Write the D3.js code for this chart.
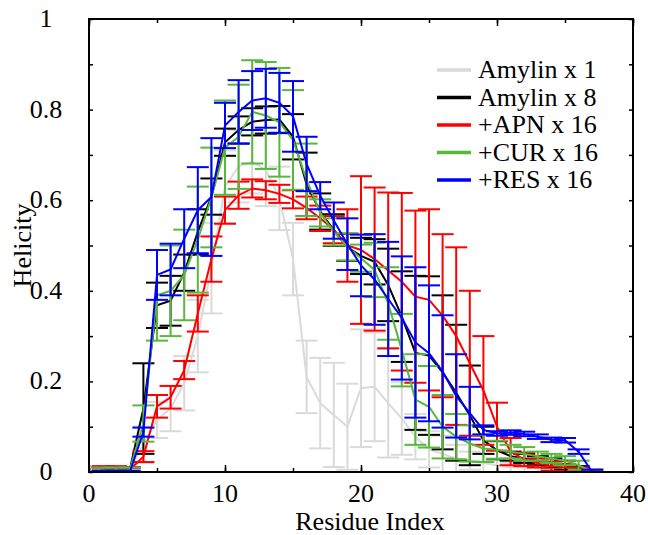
<!DOCTYPE html>
<html><head><meta charset="utf-8">
<script src="https://cdn.jsdelivr.net/npm/d3@7"></script>
<style>body{margin:0;background:#fff}svg{display:block}</style>
</head><body>
<script>
const residues = [1,2,3,4,5,6,7,8,9,10,11,12,13,14,15,16,17,18,19,20,21,22,23,24,25,26,27,28,29,30,31,32,33,34,35,36,37];

const amylin1 = [0.005,0.005,0.005,0.06,0.115,0.14,0.196,0.30,0.45,0.63,0.675,0.685,0.667,0.604,0.47,0.21,0.152,0.126,0.10,0.185,0.188,0.152,0.118,0.078,0.05,0.04,0.03,0.025,0.02,0.015,0.01,0.01,0.008,0.005,0.005,0.003,0];
const amylin1Err = [0.005,0.005,0.005,0.04,0.04,0.05,0.06,0.08,0.1,0.08,0.08,0.07,0.08,0.07,0.08,0.08,0.1,0.115,0.095,0.13,0.12,0.12,0.08,0.05,0.04,0.04,0.03,0.02,0.02,0.015,0.01,0.01,0.01,0.01,0.01,0.005,0.005];

const amylin8 = [0.005,0.005,0.005,0.14,0.368,0.378,0.44,0.53,0.608,0.728,0.755,0.773,0.777,0.778,0.74,0.635,0.575,0.534,0.496,0.477,0.464,0.413,0.343,0.263,0.257,0.22,0.175,0.125,0.07,0.048,0.035,0.03,0.025,0.02,0.015,0.008,0];
const amylin8Err = [0.005,0.005,0.005,0.1,0.05,0.055,0.04,0.05,0.04,0.03,0.03,0.03,0.03,0.03,0.05,0.07,0.04,0.035,0.03,0.04,0.05,0.08,0.1,0.17,0.175,0.17,0.15,0.11,0.03,0.02,0.01,0.01,0.01,0.01,0.01,0.005,0.005];

const apn16 = [0.008,0.008,0.005,0.034,0.145,0.165,0.225,0.35,0.47,0.578,0.611,0.626,0.622,0.614,0.602,0.583,0.56,0.535,0.50,0.49,0.47,0.445,0.42,0.387,0.38,0.345,0.30,0.24,0.18,0.10,0.045,0.028,0.02,0.013,0.01,0.005,0];
const apn16Err = [0.005,0.005,0.005,0.012,0.025,0.025,0.02,0.04,0.05,0.03,0.03,0.02,0.02,0.02,0.02,0.025,0.028,0.03,0.08,0.163,0.158,0.172,0.196,0.19,0.2,0.18,0.196,0.16,0.12,0.053,0.03,0.015,0.01,0.01,0.008,0.005,0.002];

const cur16 = [0.005,0.005,0.005,0.107,0.39,0.40,0.435,0.513,0.606,0.716,0.74,0.795,0.787,0.772,0.733,0.645,0.572,0.53,0.497,0.472,0.446,0.372,0.269,0.16,0.144,0.10,0.078,0.063,0.052,0.049,0.045,0.04,0.035,0.03,0.025,0.015,0];
const cur16Err = [0.005,0.005,0.005,0.04,0.1,0.1,0.1,0.117,0.11,0.104,0.115,0.114,0.118,0.12,0.11,0.08,0.03,0.03,0.03,0.03,0.06,0.08,0.08,0.1,0.09,0.07,0.05,0.04,0.03,0.02,0.015,0.015,0.01,0.01,0.01,0.01,0.005];

const res16 = [0,0,0,0.088,0.435,0.447,0.515,0.578,0.607,0.765,0.795,0.82,0.825,0.815,0.785,0.68,0.61,0.555,0.503,0.456,0.425,0.382,0.34,0.286,0.262,0.222,0.168,0.13,0.093,0.085,0.087,0.084,0.078,0.071,0.07,0.045,0];
const res16Err = [0.003,0.003,0.003,0.01,0.055,0.057,0.065,0.095,0.13,0.05,0.07,0.065,0.065,0.066,0.078,0.06,0.03,0.04,0.057,0.068,0.1,0.126,0.136,0.166,0.15,0.124,0.092,0.058,0.01,0.005,0.005,0.005,0.005,0.005,0.005,0.005,0.005];

const seriesNames = ["Amylin x 1","Amylin x 8","+APN x 16","+CUR x 16","+RES x 16"];
const seriesColors = ["#dadada","#000000","#ff0000","#58b83c","#0000ff"];
const seriesValues = [amylin1, amylin8, apn16, cur16, res16];
const seriesErrors = [amylin1Err, amylin8Err, apn16Err, cur16Err, res16Err];

const xTicks = [0,10,20,30,40];
const yTicks = [0,0.2,0.4,0.6,0.8,1];
const yTickLabels = ["0","0.2","0.4","0.6","0.8","1"];

const FONT = "'Liberation Serif', 'Times New Roman', Times, 'DejaVu Serif', serif";
const FS = 26;
const W = 648, H = 535;
const m = {left: 89, top: 19, right: 15, bottom: 63};
const iw = W - m.left - m.right, ih = H - m.top - m.bottom;

const svg = d3.select("body").append("svg").attr("width", W).attr("height", H)
  .attr("font-family", FONT);
const g = svg.append("g").attr("transform", `translate(${m.left},${m.top})`);

const x = d3.scaleLinear().domain([0,40]).range([0, iw]);
const y = d3.scaleLinear().domain([0,1]).range([ih, 0]);

svg.append("clipPath").attr("id","clip").append("rect").attr("width", iw).attr("height", ih + 2).attr("y", -1);
const plot = g.append("g").attr("clip-path","url(#clip)");

const capW = 11;
const line = d3.line().x(d => x(d[0])).y(d => y(d[1]));

seriesValues.forEach((vals, si) => {
  const col = seriesColors[si];
  const errs = seriesErrors[si];
  const sg = plot.append("g");
  const pts = residues.map((r, i) => [r, vals[i], errs[i]]);
  const eb = sg.selectAll("g.eb").data(pts).enter().append("g");
  eb.append("line").attr("x1", d => x(d[0])).attr("x2", d => x(d[0]))
    .attr("y1", d => y(d[1] - d[2])).attr("y2", d => y(d[1] + d[2]))
    .attr("stroke", col).attr("stroke-width", 2);
  eb.append("line").attr("x1", d => x(d[0]) - capW).attr("x2", d => x(d[0]) + capW)
    .attr("y1", d => y(d[1] + d[2])).attr("y2", d => y(d[1] + d[2]))
    .attr("stroke", col).attr("stroke-width", 2);
  eb.append("line").attr("x1", d => x(d[0]) - capW).attr("x2", d => x(d[0]) + capW)
    .attr("y1", d => y(d[1] - d[2])).attr("y2", d => y(d[1] - d[2]))
    .attr("stroke", col).attr("stroke-width", 2);
  sg.append("path").datum(pts).attr("d", line).attr("fill","none")
    .attr("stroke", col).attr("stroke-width", 2);
});

// frame
g.append("rect").attr("width", iw).attr("height", ih).attr("fill","none").attr("stroke","#000").attr("stroke-width",2);

// axes (inward ticks on all four sides)
const xMinor = d3.range(0, 41, 5);
const yMinor = d3.range(0, 11, 1).map(v => v / 10);
g.append("g").attr("transform",`translate(0,${ih})`).call(d3.axisBottom(x).tickValues(xMinor).tickSize(-4).tickFormat(""));
g.append("g").call(d3.axisTop(x).tickValues(xMinor).tickSize(-4).tickFormat(""));
g.append("g").call(d3.axisLeft(y).tickValues(yMinor).tickSize(-4).tickFormat(""));
g.append("g").attr("transform",`translate(${iw},0)`).call(d3.axisRight(y).tickValues(yMinor).tickSize(-4).tickFormat(""));
g.append("g").attr("transform",`translate(0,${ih})`).call(d3.axisBottom(x).tickValues(xTicks).tickSize(-7).tickFormat(""));
g.append("g").call(d3.axisTop(x).tickValues(xTicks).tickSize(-7).tickFormat(""));
g.selectAll(".domain").remove();
g.selectAll(".tick line").attr("stroke","#000").attr("stroke-width",1.5);

// tick labels
g.selectAll("text.xl").data(xTicks).enter().append("text").attr("class","xl")
  .attr("x", d => x(d)).attr("y", ih + 30).attr("text-anchor","middle")
  .attr("font-size", FS).attr("font-family", FONT).text(d => d);
g.selectAll("text.yl").data(yTicks).enter().append("text").attr("class","yl")
  .attr("x", -43).attr("y", d => y(d) + 8).attr("text-anchor","middle")
  .attr("font-size", FS).attr("font-family", FONT).text((d,i) => yTickLabels[i]);

// axis titles
svg.append("text").attr("x", m.left + iw/2 + 9).attr("y", 530).attr("text-anchor","middle")
  .attr("font-size", FS).attr("font-family", FONT).text("Residue Index");
svg.append("text").attr("transform", `translate(31,${m.top + ih/2}) rotate(-90)`)
  .attr("text-anchor","middle").attr("font-size", FS).attr("font-family", FONT).text("Helicity");

// legend
const lg = svg.append("g");
seriesNames.forEach((name, i) => {
  const yy = 70 + i * 27.5;
  lg.append("line").attr("x1", 437).attr("x2", 471).attr("y1", yy).attr("y2", yy)
    .attr("stroke", seriesColors[i]).attr("stroke-width", 3.5);
  lg.append("text").attr("x", 478).attr("y", yy + 8).attr("font-size", FS)
    .attr("font-family", FONT).text(name);
});
</script>
</body></html>
